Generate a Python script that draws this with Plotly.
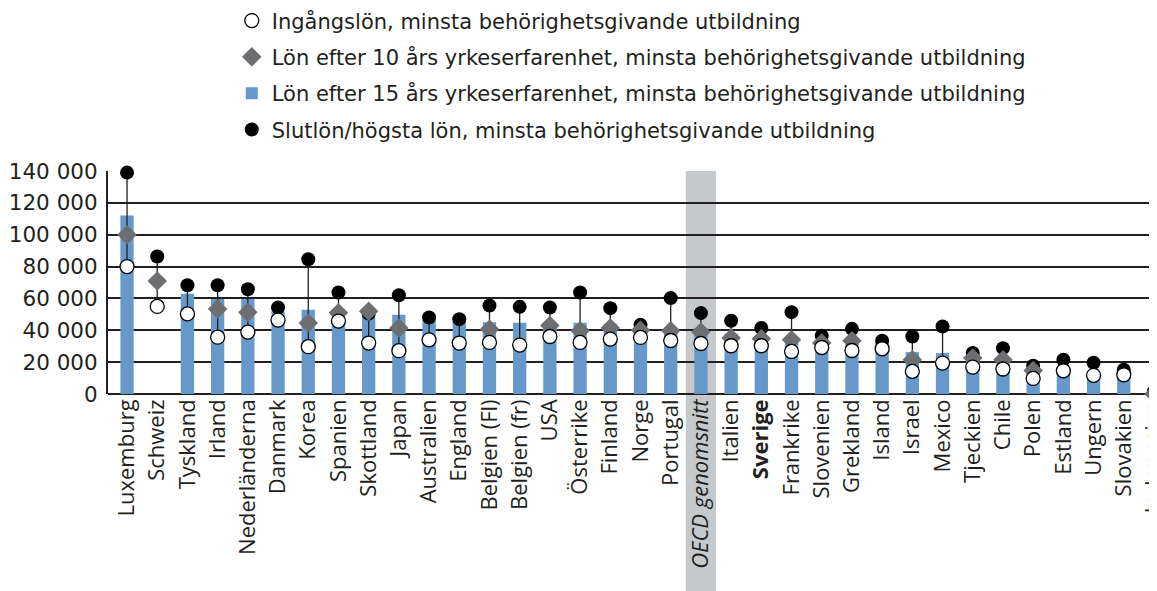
import plotly.graph_objects as go

countries = ["Luxemburg", "Schweiz", "Tyskland", "Irland", "Nederländerna", "Danmark", "Korea",
             "Spanien", "Skottland", "Japan", "Australien", "England", "Belgien (Fl)", "Belgien (fr)",
             "USA", "Österrike", "Finland", "Norge", "Portugal", "OECD genomsnitt", "Italien",
             "Sverige", "Frankrike", "Slovenien", "Grekland", "Island", "Israel", "Mexico",
             "Tjeckien", "Chile", "Polen", "Estland", "Ungern", "Slovakien", "Indonesien"]

tick_labels = [("<b>%s</b>" % c) if c == "Sverige" else (("<i>%s</i>" % c) if c == "OECD genomsnitt" else c)
               for c in countries]

start_salary = [80000, 55000, 50300, 35700, 38900, 46400, 29700, 45800, 32000, 27200, 34000, 32000,
                32400, 30700, 36100, 32400, 34500, 35500, 33600, 31700, 30300, 30300, 26700, 29200,
                27300, 28400, 14200, 19400, 16900, 15700, 9800, 14600, 11700, 12100, None]

salary_10y = [100000, 71000, None, 53300, 51400, None, 44500, 51000, 52000, 41400, None, None,
              40700, None, 43000, 39700, 41400, 40000, 39700, 38900, 35100, 34700, 34000, 32000,
              33400, None, 21500, None, 22600, 21500, 14800, None, None, None, 0]

salary_15y = [112000, None, 62900, 59700, 59700, 52000, 52900, 52900, 51500, 49700, 47000, 45500,
              45100, 44700, 44900, 44700, 44100, 40500, 41400, 41400, 37800, 34000, 35700, 34000,
              34000, 32500, 26300, 25700, 21900, 21900, 15200, 15500, 14000, 13500, None]

top_salary = [139000, 86300, 68300, 68300, 65800, 54300, 84600, 63700, 50500, 62000, 48000, 47000,
              55600, 54700, 54300, 63700, 53900, 43400, 60200, 50800, 46000, 41400, 51400, 36600,
              40900, 33400, 36100, 42400, 25700, 28800, 17700, 21500, 19600, 15200, 1600]

y_ticks = [0, 20000, 40000, 60000, 80000, 100000, 120000, 140000]
y_tick_text = ["0", "20 000", "40 000", "60 000", "80 000", "100 000", "120 000", "140 000"]

names = ["Ingångslön, minsta behörighetsgivande utbildning",
         "Lön efter 10 års yrkeserfarenhet, minsta behörighetsgivande utbildning",
         "Lön efter 15 års yrkeserfarenhet, minsta behörighetsgivande utbildning",
         "Slutlön/högsta lön, minsta behörighetsgivande utbildning"]

TEXT = "#231f20"
BLUE = "#6699c9"
GRAY = "#6d6e71"

# range lines from start salary to top salary
rx, ry = [], []
for c, lo, hi in zip(countries, start_salary, top_salary):
    if lo is None or hi is None:
        continue
    rx += [c, c, None]
    ry += [lo, hi, None]

fig = go.Figure()
fig.add_trace(go.Bar(x=countries, y=salary_15y, name=names[2], marker=dict(color=BLUE, line_width=0),
                     legendrank=3, legendgroup="c"))
fig.add_trace(go.Scatter(x=rx, y=ry, mode="lines", line=dict(color="#231f20", width=1.3),
                         showlegend=False, hoverinfo="skip", cliponaxis=False))
fig.add_trace(go.Scatter(x=countries, y=top_salary, mode="markers", name=names[3],
                         marker=dict(symbol="circle", size=14, color="black", line=dict(width=0)),
                         legendrank=4, legendgroup="d", cliponaxis=False))
fig.add_trace(go.Scatter(x=countries, y=salary_10y, mode="markers", name=names[1],
                         marker=dict(symbol="diamond", size=15, color=GRAY, line=dict(width=0)),
                         legendrank=2, legendgroup="b", cliponaxis=False))
fig.add_trace(go.Scatter(x=countries, y=start_salary, mode="markers", name=names[0],
                         marker=dict(symbol="circle", size=14, color="white", line=dict(color="black", width=1.3)),
                         legendrank=1, legendgroup="a", cliponaxis=False))

fig.add_shape(type="rect", xref="x", yref="paper", x0=18.5, x1=19.5, y0=-0.9, y1=1.0,
              fillcolor="#c5c9cc", line_width=0, layer="below")

fig.update_layout(
    width=1149, height=583,
    margin=dict(l=100, r=0, t=163, b=197, autoexpand=False),
    paper_bgcolor="white", plot_bgcolor="rgba(0,0,0,0)",
    bargap=0.56,
    font=dict(family="DejaVu Sans, sans-serif", color=TEXT),
    legend=dict(x=0.118, xanchor="left", y=1.765, yanchor="top",
                font=dict(family="DejaVu Sans, sans-serif", size=21, color=TEXT),
                tracegroupgap=6, bgcolor="rgba(0,0,0,0)", itemclick=False),
    showlegend=True,
)
fig.update_xaxes(range=[-0.63, 34.1], tickmode="array", tickvals=countries, ticktext=tick_labels,
                 tickangle=-90, tickfont=dict(family="Open Sans, sans-serif", size=22, color=TEXT),
                 ticklabeloverflow="allow",
                 showgrid=False, showline=False, ticks="", fixedrange=True)
fig.update_yaxes(range=[0, 140000], tickmode="array", tickvals=y_ticks, ticktext=y_tick_text,
                 tickfont=dict(family="DejaVu Sans, sans-serif", size=21.5, color=TEXT),
                 showgrid=True, gridcolor="#231f20", gridwidth=1.6,
                 zeroline=True, zerolinecolor="#231f20", zerolinewidth=2,
                 showline=True, linecolor="#231f20", linewidth=2, ticks="", ticklabelstandoff=4,
                 fixedrange=True)

fig.write_html("out.html")
